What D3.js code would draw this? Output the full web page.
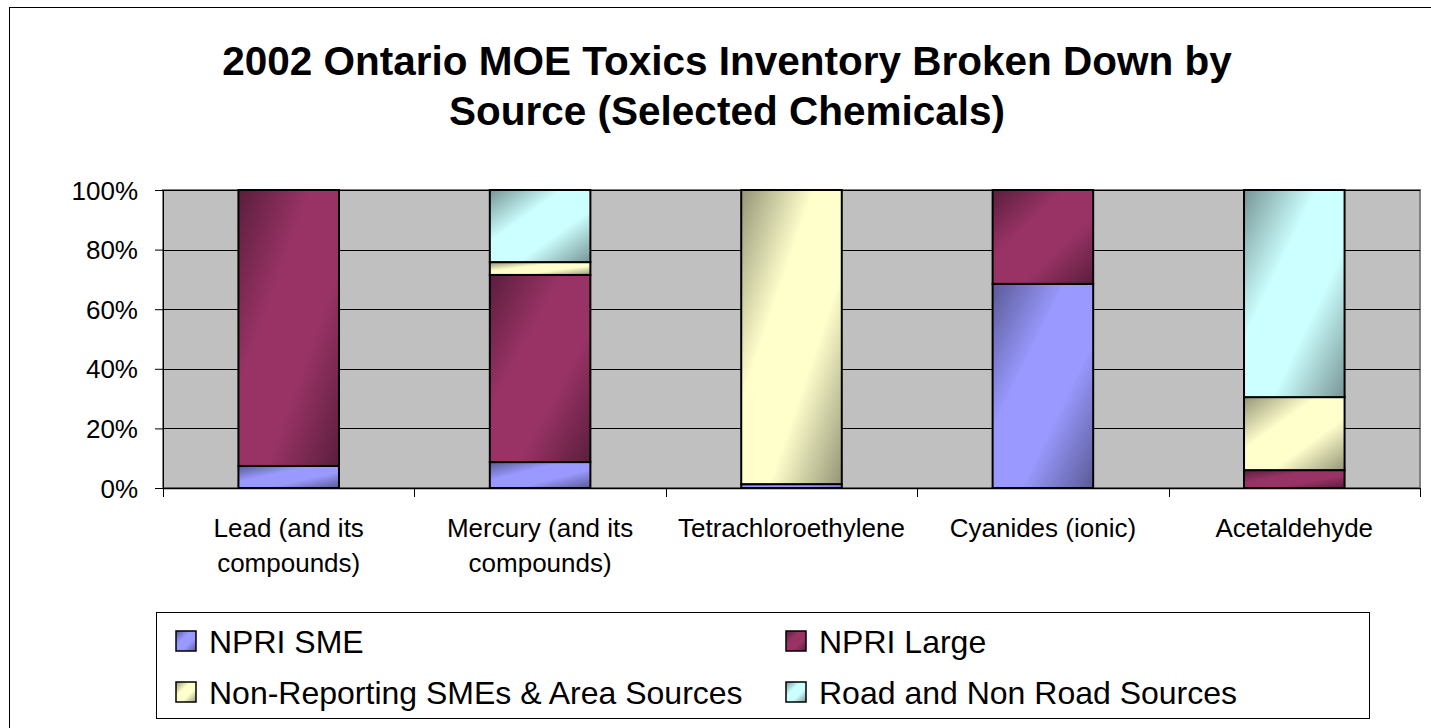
<!DOCTYPE html>
<html>
<head>
<meta charset="utf-8">
<script src="https://cdn.jsdelivr.net/npm/d3@7"></script>
<style>
  body { margin: 0; background: #fff; }
  svg { display: block; font-family: "Liberation Sans", Arial, sans-serif; }
</style>
</head>
<body>
<svg width="1431" height="728"></svg>
<script>
// chemicals and the share (%) of each source
var chemicals = ["Lead (and its|compounds)", "Mercury (and its|compounds)", "Tetrachloroethylene", "Cyanides (ionic)", "Acetaldehyde"];
var sources = ["NPRI SME", "NPRI Large", "Non-Reporting SMEs & Area Sources", "Road and Non Road Sources"];
var npriSme     = [7.4, 8.7, 1.3, 68.5, 0];
var npriLarge   = [92.6, 62.8, 0, 31.5, 6.0];
var nonReport   = [0, 4.3, 98.7, 0, 24.5];
var roadNonRoad = [0, 24.2, 0, 0, 69.5];
var yTicks = [0, 20, 40, 60, 80, 100];

var colors = ["#9999ff", "#993366", "#ffffcc", "#ccffff"];

var svg = d3.select("svg");

// chart frame
svg.append("rect").attr("x", 9.5).attr("y", 7.5).attr("width", 1440).attr("height", 740)
  .attr("fill", "#fff").attr("stroke", "#000").attr("stroke-width", 1);

// title
svg.append("text").attr("x", 727).attr("y", 75).attr("text-anchor", "middle")
  .style("font-size", "40.5px").style("font-weight", "bold")
  .text("2002 Ontario MOE Toxics Inventory Broken Down by");
svg.append("text").attr("x", 727).attr("y", 125).attr("text-anchor", "middle")
  .style("font-size", "40.5px").style("font-weight", "bold")
  .text("Source (Selected Chemicals)");

// gradients, dark corner -> colour -> dark corner
var defs = svg.append("defs");
colors.forEach(function(c, i) {
  var dark = d3.rgb(c).darker(1.5);
  var g = defs.append("linearGradient").attr("id", "grad" + i)
    .attr("x1", 0).attr("y1", 0).attr("x2", 1).attr("y2", 1);
  g.append("stop").attr("offset", "0%").attr("stop-color", dark);
  g.append("stop").attr("offset", "36%").attr("stop-color", c);
  g.append("stop").attr("offset", "64%").attr("stop-color", c);
  g.append("stop").attr("offset", "100%").attr("stop-color", dark);
});

var plotL = 163, plotR = 1420, plotT = 190, plotB = 488;

var x = d3.scaleBand().domain(chemicals).range([plotL, plotR]).paddingInner(0.6).paddingOuter(0.3);
var xBand = d3.scaleBand().domain(chemicals).range([plotL, plotR]);
var y = d3.scaleLinear().domain([0, 100]).range([plotB, plotT]);

// plot area
svg.append("rect").attr("x", plotL).attr("y", plotT).attr("width", plotR - plotL).attr("height", plotB - plotT)
  .attr("fill", "#c0c0c0").attr("stroke", "#808080").attr("stroke-width", 2);

svg.append("g").selectAll("line").data(yTicks.slice(1)).enter().append("line")
  .attr("x1", plotL).attr("x2", plotR)
  .attr("y1", function(d) { return Math.round(y(d)) + 0.5; })
  .attr("y2", function(d) { return Math.round(y(d)) + 0.5; })
  .attr("stroke", "#000").attr("stroke-width", 1);

// stacked bars
var rows = chemicals.map(function(c, i) {
  return { chem: c, s0: npriSme[i], s1: npriLarge[i], s2: nonReport[i], s3: roadNonRoad[i] };
});
var stack = d3.stack().keys(["s0", "s1", "s2", "s3"])(rows);

svg.append("g").selectAll("g").data(stack).enter().append("g")
  .attr("fill", function(d, i) { return "url(#grad" + i + ")"; })
  .selectAll("rect").data(function(d) { return d.filter(function(p) { return p[1] - p[0] > 0; }); })
  .enter().append("rect")
  .attr("x", function(d) { return x(d.data.chem); })
  .attr("width", x.bandwidth())
  .attr("y", function(d) { return y(d[1]); })
  .attr("height", function(d) { return y(d[0]) - y(d[1]); })
  .attr("stroke", "#000").attr("stroke-width", 2);

// y axis
var yAxis = svg.append("g").attr("transform", "translate(" + plotL + ",0)")
  .call(d3.axisLeft(y).tickValues(yTicks).tickSize(8).tickFormat(function(d) { return d + "%"; }));
yAxis.select(".domain").attr("stroke", "#000").attr("d", "M0.5," + plotT + "V" + (plotB + 9));
yAxis.selectAll(".tick line").attr("stroke", "#000");
yAxis.selectAll("text").style("font-size", "26px").attr("x", -25).attr("dy", "0.35em").attr("fill", "#000")
  .style("font-family", "Liberation Sans, Arial, sans-serif");

// x axis
var xg = svg.append("g");
xg.append("line").attr("x1", plotL).attr("x2", plotR).attr("y1", plotB + 0.5).attr("y2", plotB + 0.5)
  .attr("stroke", "#000").attr("stroke-width", 1.5);
var bounds = chemicals.map(function(c) { return xBand(c); }).concat([plotR]);
xg.selectAll("line.tick").data(bounds).enter().append("line")
  .attr("x1", function(d) { return Math.round(d) + 0.5; })
  .attr("x2", function(d) { return Math.round(d) + 0.5; })
  .attr("y1", plotB).attr("y2", plotB + 9)
  .attr("stroke", "#000");
xg.selectAll("text").data(chemicals).enter().append("text")
  .attr("x", function(d) { return xBand(d) + xBand.bandwidth() / 2; })
  .attr("y", 537).attr("text-anchor", "middle").style("font-size", "26px")
  .each(function(d) {
    var parts = d.split("|");
    var t = d3.select(this);
    parts.forEach(function(p, i) {
      t.append("tspan").attr("x", t.attr("x")).attr("dy", i === 0 ? 0 : 35).text(p);
    });
  });

// legend
var lg = svg.append("g");
lg.append("rect").attr("x", 156.5).attr("y", 612.5).attr("width", 1213).attr("height", 106)
  .attr("fill", "#fff").attr("stroke", "#000").attr("stroke-width", 1);
var legendPos = [[176, 641], [786, 641], [176, 692], [786, 692]];
sources.forEach(function(s, i) {
  var item = lg.append("g").attr("transform", "translate(" + legendPos[i][0] + "," + legendPos[i][1] + ")");
  item.append("rect").attr("x", 0).attr("y", -10).attr("width", 20).attr("height", 20)
    .attr("fill", "url(#grad" + i + ")").attr("stroke", "#000").attr("stroke-width", 1.5);
  item.append("text").attr("x", 33).attr("y", 0).attr("dy", "0.36em").style("font-size", "32px").text(s);
});
</script>
</body>
</html>
